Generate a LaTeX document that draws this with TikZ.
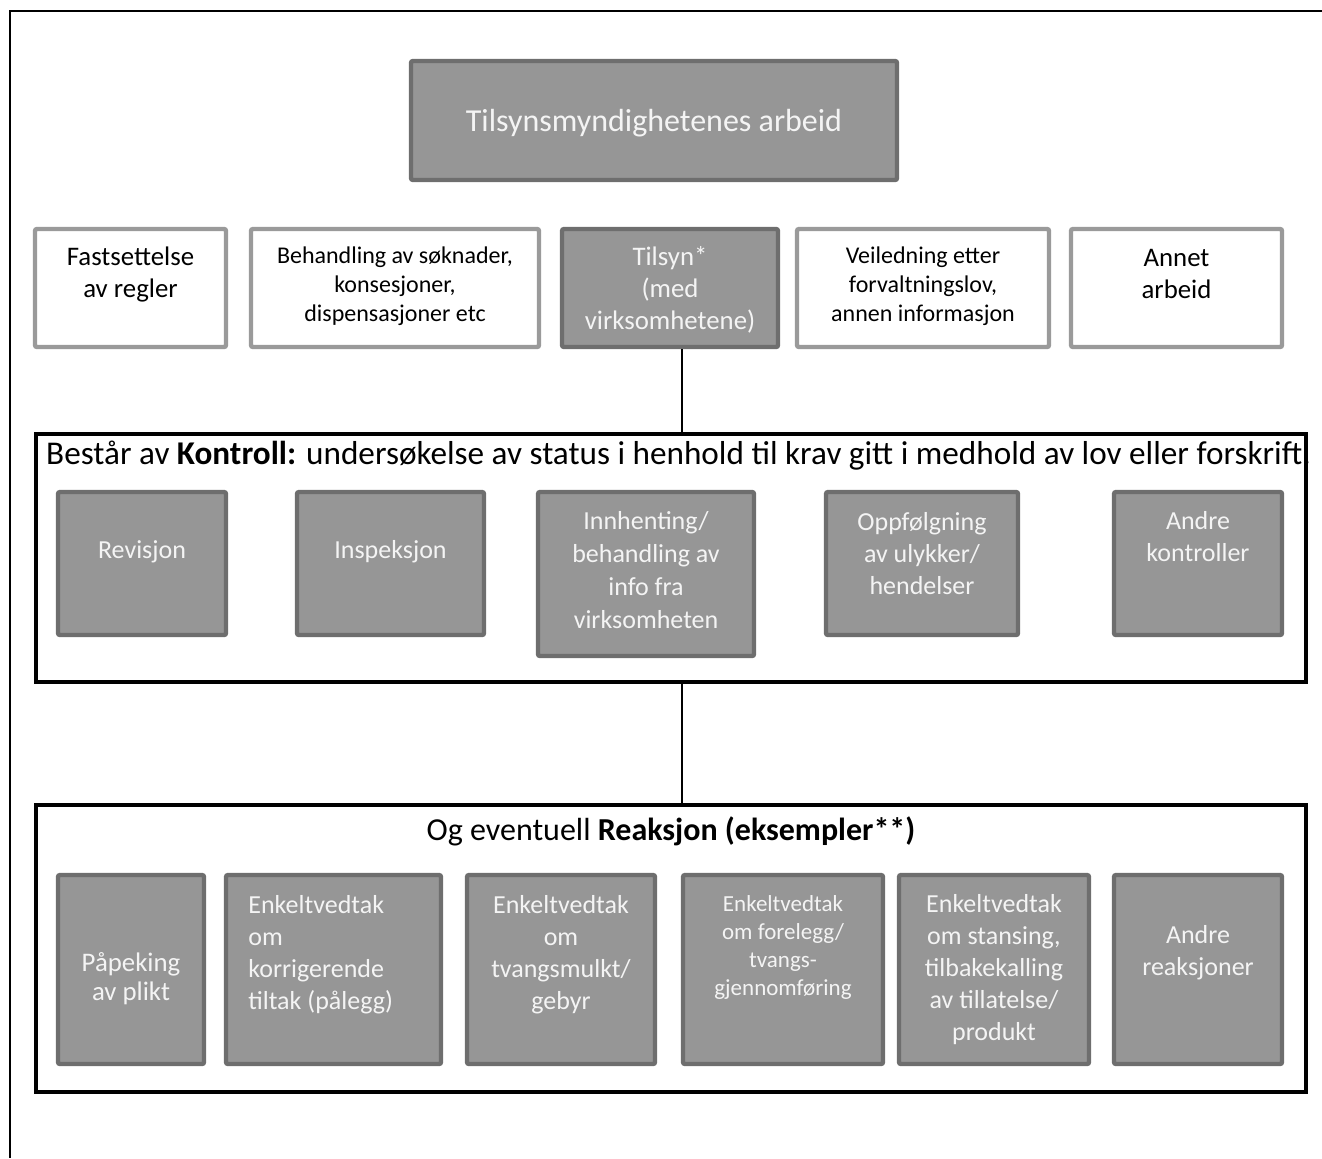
\documentclass[tikz,border=0pt]{standalone}
\usepackage{fontspec}
\setmainfont{Carlito}

\definecolor{boxgrey}{HTML}{969696}
\definecolor{edgegrey}{HTML}{6E6E6E}
\definecolor{lightedge}{HTML}{9A9A9A}
\definecolor{paletext}{HTML}{F4F4F4}

\tikzset{
  whitebox/.style={draw=lightedge, line width=2.2pt, fill=white, rounded corners=1pt, inner sep=0pt},
  greybox/.style={draw=edgegrey, line width=2.2pt, fill=boxgrey, rounded corners=1pt, inner sep=0pt},
  groupbox/.style={draw=black, line width=1.8pt, inner sep=0pt},
  dark/.style={align=center, text=black, inner sep=0pt},
  pale/.style={align=center, text=paletext, inner sep=0pt},
  big/.style={font=\fontsize{13}{16}\selectfont},
  small/.style={font=\fontsize{12}{14.5}\selectfont},
  title/.style={font=\fontsize{16}{19}\selectfont}
}

\begin{document}
\begin{tikzpicture}[x=0.5pt, y=-0.5pt]
  \useasboundingbox (0,0) rectangle (1322,1158);
  \draw[line width=1.4pt] (1322,11) -- (10,11) -- (10,1158);

  % top
  \node[greybox, minimum width=243pt, minimum height=59.5pt] (arbeid) at (654,120.5) {};
  \node[pale, title] (arbeidtxt) at (654,123) {Tilsynsmyndighetenes arbeid};

  % second row
  \node[whitebox, minimum width=95.5pt, minimum height=59pt] (fast) at (130.5,288) {};
  \node[dark, font=\fontsize{13.4}{16}\selectfont] (fasttxt) at (130.5,274) {Fastsettelse\\av regler};
  \node[whitebox, minimum width=144pt, minimum height=59pt] (beh) at (395,288) {};
  \node[dark, small] (behtxt) at (395,286) {Behandling av søknader,\\konsesjoner,\\dispensasjoner etc};
  \node[greybox, minimum width=108pt, minimum height=59pt] (tilsyn) at (670,288) {};
  \node[pale, font=\fontsize{13.4}{16}\selectfont] (tilsyntxt) at (670,290) {Tilsyn*\\(med\\virksomhetene)};
  \node[whitebox, minimum width=126pt, minimum height=59pt] (veil) at (923,288) {};
  \node[dark, small] (veiltxt) at (923,286) {Veiledning etter\\forvaltningslov,\\annen informasjon};
  \node[whitebox, minimum width=105.5pt, minimum height=59pt] (annet) at (1176.5,288) {};
  \node[dark, font=\fontsize{13.4}{16}\selectfont] (annettxt) at (1176.5,274) {Annet\\arbeid};

  % kontroll
  \node[groupbox, minimum width=635pt, minimum height=124.25pt] (kontroll) at (671,558) {};
  \node[greybox, minimum width=84pt, minimum height=71.5pt] (rev) at (142,563.5) {};
  \node[pale, big] (revtxt) at (142,552) {Revisjon};
  \node[greybox, minimum width=93.5pt, minimum height=71.5pt] (insp) at (390.5,563.5) {};
  \node[pale, big] (insptxt) at (390.5,552) {Inspeksjon};
  \node[greybox, minimum width=108pt, minimum height=82pt] (innh) at (646,574) {};
  \node[pale, font=\fontsize{13}{16.5}\selectfont] (innhtxt) at (646,570) {Innhenting/\\behandling av\\info fra\\virksomheten};
  \node[greybox, minimum width=96pt, minimum height=71.5pt] (oppf) at (922,563.5) {};
  \node[pale, big] (oppftxt) at (922,554) {Oppfølgning\\av ulykker/\\hendelser};
  \node[greybox, minimum width=84pt, minimum height=71.5pt] (andrek) at (1198,563.5) {};
  \node[pale, big] (andrektxt) at (1198,537) {Andre\\kontroller};
  \node[dark, font=\fontsize{16.6}{19}\selectfont] (kontrolltxt) at (678.5,456) {Består av \textbf{Kontroll:} undersøkelse av status i henhold til krav gitt i medhold av lov eller forskrift.};

  % reaksjon
  \node[groupbox, minimum width=635pt, minimum height=143.75pt] (reaksjon) at (671,948.5) {};
  \node[dark, title] (reaksjontxt) at (671,831) {Og eventuell \textbf{Reaksjon (eksempler**)}};
  \node[greybox, minimum width=73pt, minimum height=94.5pt] (pap) at (131,969.5) {};
  \node[pale, font=\fontsize{13.4}{14.5}\selectfont] (paptxt) at (131,979) {Påpeking\\av plikt};
  \node[greybox, minimum width=107.5pt, minimum height=94.5pt] (korr) at (333.5,969.5) {};
  \node[pale, big, align=left, anchor=west] (korrtxt) at (248,955) {Enkeltvedtak\\om\\korrigerende\\tiltak (pålegg)};
  \node[greybox, minimum width=94pt, minimum height=94.5pt] (tvang) at (561,969.5) {};
  \node[pale, big] (tvangtxt) at (561,955) {Enkeltvedtak\\om\\tvangsmulkt/\\gebyr};
  \node[greybox, minimum width=100pt, minimum height=94.5pt] (forel) at (783,969.5) {};
  \node[pale, font=\fontsize{11.5}{14}\selectfont] (foreltxt) at (783,947) {Enkeltvedtak\\om forelegg/\\tvangs-\\gjennomføring};
  \node[greybox, minimum width=95pt, minimum height=94.5pt] (stans) at (994,969.5) {};
  \node[pale, big] (stanstxt) at (994,970) {Enkeltvedtak\\om stansing,\\tilbakekalling\\av tillatelse/\\produkt};
  \node[greybox, minimum width=84pt, minimum height=94.5pt] (andrer) at (1198,969.5) {};
  \node[pale, big] (andrertxt) at (1198,953) {Andre\\reaksjoner};

  \draw[line width=0.9pt] ([xshift=6pt]tilsyn.south) -- ([xshift=6pt]tilsyn.south |- kontroll.north);
  \draw[line width=0.9pt] ([xshift=5.5pt]kontroll.south) -- ([xshift=5.5pt]reaksjon.north);
\end{tikzpicture}
\end{document}
